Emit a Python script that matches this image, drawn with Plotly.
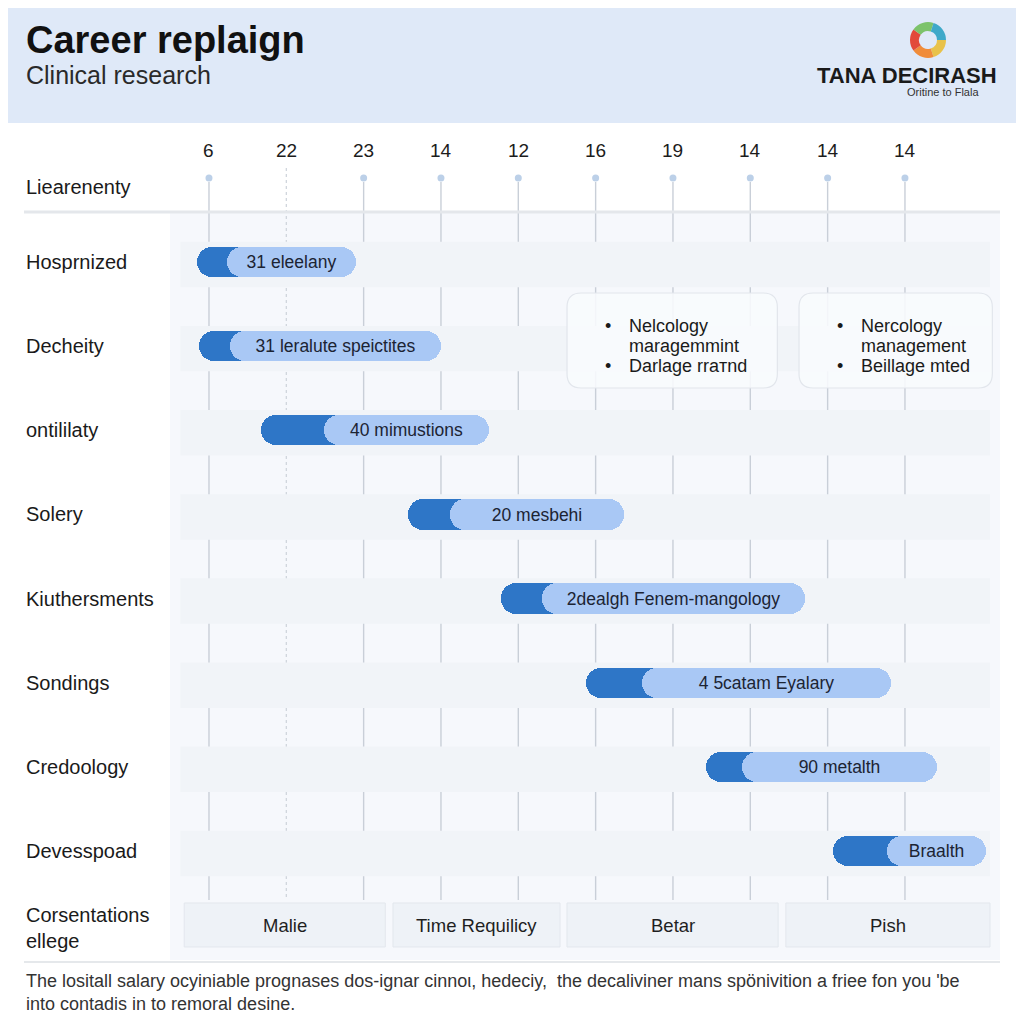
import plotly.graph_objects as go

# ---------------- data ----------------
rows = ["Hosprnized", "Decheity", "ontililaty", "Solery", "Kiuthersments",
        "Sondings", "Credoology", "Devesspoad"]
bar_start = [-0.15, -0.13, 0.67, 2.57, 3.78, 4.88, 6.43, 8.07]
bar_phase = [0.23, 0.27, 1.49, 3.12, 4.31, 5.60, 6.89, 8.77]
bar_end = [1.90, 3.00, 3.62, 5.37, 7.71, 8.82, 9.42, 10.05]
bar_labels = ["31 eleelany", "31 leralute speictites", "40 mimustions", "20 mesbehi",
              "2dealgh Fenem-mangology", "4 5catam Eyalary", "90 metalth", "Braalth"]
col_values = [6, 22, 23, 14, 12, 16, 19, 14, 14, 14]
col_index = list(range(len(col_values)))
group_names = ["Malie", "Time Requilicy", "Betar", "Pish"]
group_from = [-0.32, 2.38, 4.63, 7.46]
group_to = [2.28, 4.54, 7.36, 10.10]
note_cols = [(4.63, 7.35), (7.63, 10.13)]
note_lines = [["Nelcology", "maragemmint", "Darlage rraтnd"],
              ["Nercology", "management", "Beillage mted"]]
note_bullets = [True, False, True]

FONT = "Liberation Sans, Arial, sans-serif"
DARK = "#2e76c7"
LIGHT = "#a9c8f5"

OFF = 8          # page body margin
SIZE = 1016


def X(px):
    return (px - OFF) / SIZE


def Y(py):
    return 1 - (py - OFF) / SIZE


fig = go.Figure()

ypos = list(range(len(rows)))
fig.add_trace(go.Bar(
    y=ypos, x=[e - s for s, e in zip(bar_start, bar_end)], base=bar_start,
    orientation="h", width=0.36, marker=dict(color=DARK, cornerradius=15, line_width=0),
    hoverinfo="skip", showlegend=False))
fig.add_trace(go.Bar(
    y=ypos, x=[e - s for s, e in zip(bar_phase, bar_end)], base=bar_phase,
    orientation="h", width=0.36, marker=dict(color=LIGHT, cornerradius=15, line_width=0),
    text=bar_labels, textposition="inside", insidetextanchor="middle", textangle=0,
    constraintext="none",
    textfont=dict(family=FONT, size=17.5, color="#1c2433"),
    hoverinfo="skip", showlegend=False))

shapes = []
# header band
shapes.append(dict(type="rect", xref="paper", yref="paper", x0=0, x1=1, y0=Y(123), y1=1,
                   fillcolor="#dfe9f8", line_width=0, layer="below"))
# row bands
for i in ypos:
    shapes.append(dict(type="rect", xref="x", yref="y", x0=-0.37, x1=10.1, y0=i - 0.24, y1=i + 0.30,
                       fillcolor="#f1f4f8", line_width=0, layer="below"))
# vertical column lines + dots
for c in col_index:
    if c == 1:
        shapes.append(dict(type="line", xref="x", yref="paper", x0=c, x1=c, y0=Y(168), y1=Y(900),
                           line=dict(color="#cdd2da", width=1.2, dash="dot"), layer="below"))
    else:
        shapes.append(dict(type="line", xref="x", yref="paper", x0=c, x1=c, y0=Y(182), y1=Y(900),
                           line=dict(color="#c9cfd8", width=1.4), layer="below"))
        shapes.append(dict(type="circle", xref="x", yref="paper", xsizemode="pixel", ysizemode="pixel",
                           xanchor=c, yanchor=Y(178), x0=-3.5, x1=3.5, y0=-3.5, y1=3.5,
                           fillcolor="#bcd0e8", line_width=0))
# separators
shapes.append(dict(type="line", xref="paper", yref="paper", x0=X(24), x1=X(1000), y0=Y(212), y1=Y(212),
                   line=dict(color="#e4e7eb", width=3)))
shapes.append(dict(type="line", xref="paper", yref="paper", x0=X(24), x1=X(1000), y0=Y(962), y1=Y(962),
                   line=dict(color="#dde0e5", width=1.5)))


def rounded(x0, x1, y0, y1, r):
    return (f"M{x0 + r},{y0} L{x1 - r},{y0} Q{x1},{y0} {x1},{y0 + r} L{x1},{y1 - r} "
            f"Q{x1},{y1} {x1 - r},{y1} L{x0 + r},{y1} Q{x0},{y1} {x0},{y1 - r} "
            f"L{x0},{y0 + r} Q{x0},{y0} {x0 + r},{y0} Z")


annotations = []
x_lo, x_hi = -0.504, 10.229
dom0, dom1 = X(170), X(1000)


def xp(v):
    return dom0 + (v - x_lo) / (x_hi - x_lo) * (dom1 - dom0)


def ann(x, y, text, size, color="#1a1a1a", xanchor="center", yanchor="middle", align="center",
        xref="paper", yref="paper"):
    return dict(xref=xref, yref=yref, x=x, y=y, text=text, showarrow=False, xanchor=xanchor,
                yanchor=yanchor, align=align, font=dict(family=FONT, size=size, color=color))


line_y = [326, 346, 366]
for (a, b), lines in zip(note_cols, note_lines):
    shapes.append(dict(type="path", xref="paper", yref="paper",
                       path=rounded(xp(a), xp(b), Y(388), Y(293), 0.014),
                       fillcolor="rgba(248,250,253,0.88)", line=dict(color="#e2e6ec", width=1.2)))
    for txt, ly, bul in zip(lines, line_y, note_bullets):
        annotations.append(ann(xp(a) + 60 / SIZE, Y(ly), txt, 18, xanchor="left", align="left"))
        if bul:
            annotations.append(ann(xp(a) + 41 / SIZE, Y(ly), "•", 18))

# bottom group boxes
for name, a, b in zip(group_names, group_from, group_to):
    shapes.append(dict(type="rect", xref="paper", yref="paper", x0=xp(a), x1=xp(b), y0=Y(947), y1=Y(903),
                       fillcolor="#eef2f7", line=dict(color="#e3e7ed", width=1)))
    annotations.append(ann((xp(a) + xp(b)) / 2, Y(925), name, 18.5, color="#1f1f1f"))

# column header values
for c, v in zip(col_index, col_values):
    annotations.append(ann(c, Y(151), str(v), 19, color="#1c1c1c", xref="x"))

# row labels
for i, r in zip(ypos, rows):
    annotations.append(ann(X(24), i, r, 20, xanchor="left", yref="y"))

annotations += [
    ann(X(24), Y(187), "Liearenenty", 20, xanchor="left"),
    ann(X(24), Y(928), "Corsentations<br>ellege", 20, xanchor="left", align="left"),
    ann(X(24), Y(40), "<b>Career replaign</b>", 38, color="#111111", xanchor="left"),
    ann(X(24), Y(75), "Clinical research", 25, color="#2a2a2a", xanchor="left"),
    ann(X(907), Y(76), "<b>TANA DECIRASH</b>", 22),
    ann(X(943), Y(92), "Oritine to Flala", 11, color="#333333"),
    ann(X(24), Y(981),
        "The lositall salary ocyiniable prognases dos-ignar cinnoι, hedeciy,  the decaliviner mans spönivition a friee fon you 'be",
        18, color="#333333", xanchor="left"),
    ann(X(24), Y(1004), "into contadis in to remoral desine.", 18, color="#333333", xanchor="left"),
]

# logo ring
fig.add_trace(go.Pie(values=[1, 1, 1, 1, 1], hole=0.5, sort=False, direction="clockwise", rotation=90,
                     marker=dict(colors=["#e8c24a", "#f08c3a", "#e24a3b", "#7dc36b", "#3fa9c9"],
                                 line=dict(width=0)),
                     textinfo="none", hoverinfo="skip", showlegend=False,
                     domain=dict(x=[X(910), X(946)], y=[Y(58), Y(22)])))

fig.update_layout(
    width=SIZE, height=SIZE, margin=dict(l=0, r=0, t=0, b=0),
    paper_bgcolor="white", plot_bgcolor="#f6f8fc",
    barmode="overlay", bargap=0,
    xaxis=dict(domain=[X(170), X(1000)], range=[x_lo, x_hi], visible=False, fixedrange=True),
    yaxis=dict(domain=[Y(960), Y(212)], range=[8.296, -0.594], visible=False, fixedrange=True),
    shapes=shapes, annotations=annotations,
    font=dict(family=FONT),
)

fig.write_html("out.html")
